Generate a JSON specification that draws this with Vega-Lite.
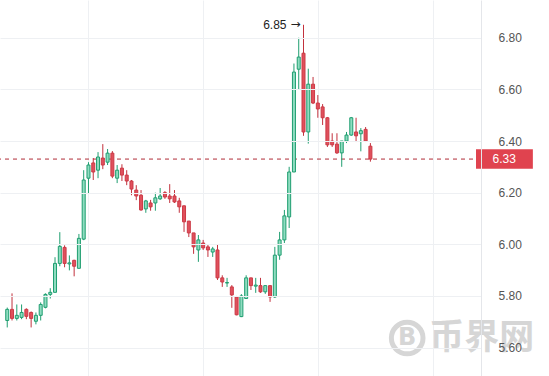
{
  "$schema": "https://vega.github.io/schema/vega-lite/v6.json",
  "width": 481,
  "height": 376,
  "autosize": {"type": "none"},
  "padding": {"left": 0, "top": 0, "right": 68, "bottom": 0},
  "background": "white",
  "config": {"view": {"stroke": null}, "font": "Liberation Sans"},
  "datasets": {
    "candles": [
      {"i":0,"o":5.705,"h":5.755,"l":5.678,"c":5.748},
      {"i":1,"o":5.748,"h":5.81,"l":5.705,"c":5.713},
      {"i":2,"o":5.713,"h":5.767,"l":5.705,"c":5.725},
      {"i":3,"o":5.717,"h":5.767,"l":5.71,"c":5.736},
      {"i":4,"o":5.748,"h":5.752,"l":5.71,"c":5.721},
      {"i":5,"o":5.736,"h":5.74,"l":5.678,"c":5.713},
      {"i":6,"o":5.702,"h":5.736,"l":5.69,"c":5.725},
      {"i":7,"o":5.725,"h":5.775,"l":5.705,"c":5.767},
      {"i":8,"o":5.756,"h":5.81,"l":5.752,"c":5.806},
      {"i":9,"o":5.806,"h":5.83,"l":5.79,"c":5.814},
      {"i":10,"o":5.814,"h":5.95,"l":5.814,"c":5.926},
      {"i":11,"o":5.926,"h":6.047,"l":5.915,"c":5.992},
      {"i":12,"o":5.988,"h":5.996,"l":5.911,"c":5.926},
      {"i":13,"o":5.924,"h":5.957,"l":5.899,"c":5.928},
      {"i":14,"o":5.938,"h":5.94,"l":5.876,"c":5.915},
      {"i":15,"o":5.907,"h":6.04,"l":5.907,"c":6.023},
      {"i":16,"o":6.02,"h":6.287,"l":6.016,"c":6.249},
      {"i":17,"o":6.256,"h":6.318,"l":6.198,"c":6.307},
      {"i":18,"o":6.315,"h":6.334,"l":6.249,"c":6.28},
      {"i":19,"o":6.287,"h":6.357,"l":6.256,"c":6.338},
      {"i":20,"o":6.334,"h":6.388,"l":6.291,"c":6.307},
      {"i":21,"o":6.318,"h":6.369,"l":6.307,"c":6.353},
      {"i":22,"o":6.353,"h":6.361,"l":6.256,"c":6.264},
      {"i":23,"o":6.256,"h":6.307,"l":6.237,"c":6.287},
      {"i":24,"o":6.295,"h":6.31,"l":6.245,"c":6.268},
      {"i":25,"o":6.268,"h":6.287,"l":6.229,"c":6.245},
      {"i":26,"o":6.245,"h":6.249,"l":6.19,"c":6.214},
      {"i":27,"o":6.21,"h":6.229,"l":6.171,"c":6.187},
      {"i":28,"o":6.19,"h":6.21,"l":6.13,"c":6.133},
      {"i":29,"o":6.137,"h":6.172,"l":6.122,"c":6.168},
      {"i":30,"o":6.16,"h":6.172,"l":6.13,"c":6.145},
      {"i":31,"o":6.16,"h":6.2,"l":6.13,"c":6.18},
      {"i":32,"o":6.176,"h":6.218,"l":6.172,"c":6.187},
      {"i":33,"o":6.2,"h":6.206,"l":6.176,"c":6.183},
      {"i":34,"o":6.187,"h":6.233,"l":6.16,"c":6.176},
      {"i":35,"o":6.187,"h":6.21,"l":6.16,"c":6.164},
      {"i":36,"o":6.168,"h":6.18,"l":6.122,"c":6.145},
      {"i":37,"o":6.149,"h":6.15,"l":6.048,"c":6.087},
      {"i":38,"o":6.09,"h":6.09,"l":6.028,"c":6.044},
      {"i":39,"o":6.044,"h":6.044,"l":5.963,"c":5.99},
      {"i":40,"o":5.978,"h":6.036,"l":5.932,"c":6.017},
      {"i":41,"o":6.005,"h":6.017,"l":5.978,"c":5.986},
      {"i":42,"o":5.99,"h":5.998,"l":5.951,"c":5.978},
      {"i":43,"o":5.97,"h":5.99,"l":5.951,"c":5.982},
      {"i":44,"o":5.978,"h":5.998,"l":5.862,"c":5.87},
      {"i":45,"o":5.87,"h":5.88,"l":5.835,"c":5.854},
      {"i":46,"o":5.85,"h":5.87,"l":5.835,"c":5.852},
      {"i":47,"o":5.835,"h":5.842,"l":5.754,"c":5.804},
      {"i":48,"o":5.796,"h":5.8,"l":5.725,"c":5.727},
      {"i":49,"o":5.72,"h":5.807,"l":5.718,"c":5.8},
      {"i":50,"o":5.79,"h":5.88,"l":5.79,"c":5.87},
      {"i":51,"o":5.87,"h":5.87,"l":5.823,"c":5.84},
      {"i":52,"o":5.838,"h":5.87,"l":5.812,"c":5.842},
      {"i":53,"o":5.84,"h":5.87,"l":5.812,"c":5.816},
      {"i":54,"o":5.816,"h":5.84,"l":5.808,"c":5.84},
      {"i":55,"o":5.84,"h":5.84,"l":5.777,"c":5.796},
      {"i":56,"o":5.796,"h":5.99,"l":5.792,"c":5.958},
      {"i":57,"o":5.958,"h":6.048,"l":5.94,"c":6.017},
      {"i":58,"o":6.017,"h":6.133,"l":6.005,"c":6.11},
      {"i":59,"o":6.106,"h":6.3,"l":6.063,"c":6.28},
      {"i":60,"o":6.28,"h":6.7,"l":6.28,"c":6.667},
      {"i":61,"o":6.678,"h":6.8,"l":6.6,"c":6.725},
      {"i":62,"o":6.74,"h":6.85,"l":6.42,"c":6.435},
      {"i":63,"o":6.435,"h":6.68,"l":6.39,"c":6.62},
      {"i":64,"o":6.62,"h":6.648,"l":6.543,"c":6.547},
      {"i":65,"o":6.547,"h":6.578,"l":6.49,"c":6.524},
      {"i":66,"o":6.532,"h":6.543,"l":6.462,"c":6.49},
      {"i":67,"o":6.49,"h":6.493,"l":6.377,"c":6.385},
      {"i":68,"o":6.4,"h":6.43,"l":6.377,"c":6.385},
      {"i":69,"o":6.388,"h":6.43,"l":6.35,"c":6.354},
      {"i":70,"o":6.354,"h":6.4,"l":6.3,"c":6.4},
      {"i":71,"o":6.4,"h":6.435,"l":6.392,"c":6.423},
      {"i":72,"o":6.423,"h":6.493,"l":6.42,"c":6.49},
      {"i":73,"o":6.435,"h":6.49,"l":6.396,"c":6.42},
      {"i":74,"o":6.428,"h":6.45,"l":6.36,"c":6.44},
      {"i":75,"o":6.445,"h":6.454,"l":6.396,"c":6.4},
      {"i":76,"o":6.38,"h":6.392,"l":6.32,"c":6.33}
    ],
    "price": [{"p": 6.33, "t": "6.33", "x0": 98.1, "x1": 110, "xt": 104, "lo": 6.293, "hi": 6.368}],
    "peak": [{"i": 62, "h": 6.85, "t": "6.85", "a": "→"}],
    "mark": [{"lx": 83.7, "tx": 99.3, "y": 5.637, "logo": "B", "name": "币界网"}]
  },
  "layer": [
    {
      "data": {"name": "mark"},
      "mark": {"type": "point", "filled": false, "stroke": "#d6d6d6", "strokeWidth": 5, "size": 1000, "opacity": 1},
      "encoding": {
        "x": {"field": "lx", "type": "quantitative", "scale": {"domain": [-0.47, 98.1], "nice": false, "zero": false},
              "axis": {"values": [17, 41, 65, 89], "grid": true, "gridColor": "#eef0f3", "labels": false, "ticks": false, "domain": false, "title": null}},
        "y": {"field": "y", "type": "quantitative", "scale": {"domain": [5.49, 6.946], "nice": false, "zero": false},
              "axis": {"orient": "right", "values": [5.6, 5.8, 6.0, 6.2, 6.4, 6.6, 6.8], "format": ".2f", "grid": true, "gridColor": "#eef0f3",
                       "ticks": false, "domain": true, "domainColor": "#e4e6ea", "labelPadding": 17, "labelFontSize": 12, "labelColor": "#555555", "title": null, "zindex": 1}}
      }
    },
    {
      "data": {"name": "mark"},
      "mark": {"type": "text", "fontSize": 24, "fontWeight": "bold", "color": "#d6d6d6", "baseline": "middle", "align": "center", "font": "DejaVu Sans"},
      "encoding": {
        "x": {"field": "lx", "type": "quantitative"},
        "y": {"field": "y", "type": "quantitative"},
        "text": {"field": "logo"}
      }
    },
    {
      "data": {"name": "mark"},
      "mark": {"type": "text", "fontSize": 35, "fontWeight": "bold", "color": "#d6d6d6", "baseline": "middle", "align": "center", "font": "Noto Sans CJK SC"},
      "encoding": {
        "x": {"field": "tx", "type": "quantitative"},
        "y": {"field": "y", "type": "quantitative"},
        "text": {"field": "name"}
      }
    },
    {
      "data": {"name": "price"},
      "mark": {"type": "rule", "color": "#b02d37", "strokeDash": [4, 4], "strokeWidth": 1},
      "encoding": {
        "y": {"field": "p", "type": "quantitative"}
      }
    },
    {
      "data": {"name": "candles"},
      "mark": {"type": "rule", "strokeWidth": 1},
      "encoding": {
        "x": {"field": "i", "type": "quantitative"},
        "y": {"field": "l", "type": "quantitative"},
        "y2": {"field": "h"},
        "color": {"condition": {"test": "datum.c >= datum.o", "value": "#1f9e70"}, "value": "#c2313d"}
      }
    },
    {
      "data": {"name": "candles"},
      "mark": {"type": "bar", "width": 3, "strokeWidth": 1},
      "encoding": {
        "x": {"field": "i", "type": "quantitative"},
        "y": {"field": "o", "type": "quantitative"},
        "y2": {"field": "c"},
        "fill": {"condition": {"test": "datum.c >= datum.o", "value": "#8fdcc0"}, "value": "#e0505c"},
        "stroke": {"condition": {"test": "datum.c >= datum.o", "value": "#1f9e70"}, "value": "#cc3a46"}
      }
    },
    {
      "data": {"name": "peak"},
      "mark": {"type": "text", "align": "right", "baseline": "middle", "dx": -17, "fontSize": 12, "color": "#222222"},
      "encoding": {
        "x": {"field": "i", "type": "quantitative"},
        "y": {"field": "h", "type": "quantitative"},
        "text": {"field": "t"}
      }
    },
    {
      "data": {"name": "peak"},
      "mark": {"type": "text", "align": "right", "baseline": "middle", "dx": -3, "dy": -1, "fontSize": 12, "color": "#222222", "font": "DejaVu Sans"},
      "encoding": {
        "x": {"field": "i", "type": "quantitative"},
        "y": {"field": "h", "type": "quantitative"},
        "text": {"field": "a"}
      }
    },
    {
      "data": {"name": "price"},
      "mark": {"type": "rect", "color": "#e0434f"},
      "encoding": {
        "x": {"field": "x0", "type": "quantitative"},
        "x2": {"field": "x1"},
        "y": {"field": "lo", "type": "quantitative"},
        "y2": {"field": "hi"}
      }
    },
    {
      "data": {"name": "price"},
      "mark": {"type": "text", "align": "center", "baseline": "middle", "fontSize": 12, "color": "white"},
      "encoding": {
        "x": {"field": "xt", "type": "quantitative"},
        "y": {"field": "p", "type": "quantitative"},
        "text": {"field": "t"}
      }
    }
  ]
}
